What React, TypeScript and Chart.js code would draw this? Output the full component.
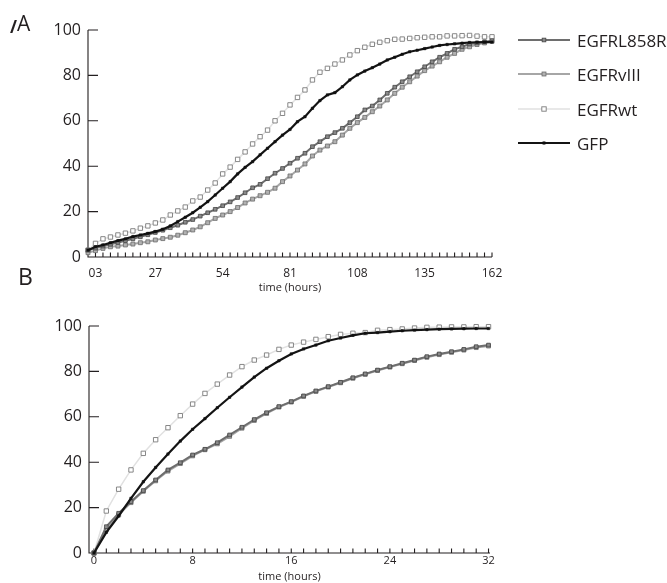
import React, { useEffect, useRef } from "react";
import { Chart, registerables } from "chart.js";

Chart.register(...registerables);

// ---------- Panel A (0–162 h) ----------
const hoursA = [
  0, 3, 6, 9, 12, 15, 18, 21, 24, 27, 30, 33, 36, 39, 42, 45, 48, 51, 54, 57,
  60, 63, 66, 69, 72, 75, 78, 81, 84, 87, 90, 93, 96, 99, 102, 105, 108, 111,
  114, 117, 120, 123, 126, 129, 132, 135, 138, 141, 144, 147, 150, 153, 156,
  159, 162,
];
const aL858R = [
  3, 3.9, 4.8, 5.6, 6.4, 7.2, 8, 8.9, 9.8, 10.8, 11.8, 12.9, 14, 15.3, 16.5, 18,
  19.5, 21, 22.6, 24.3, 26.2, 28.3, 30.5, 32, 34.5, 36.9, 39, 41.3, 43.5, 45.7,
  48.6, 50.8, 53, 54.8, 56.7, 59.2, 61.8, 64.8, 66.5, 69.2, 72.1, 74.8, 77.2,
  79.4, 81.6, 83.8, 86, 88, 89.7, 91.5, 92.6, 93.8, 94.3, 94.8, 95.3,
];
const aVIII = [
  1.9, 2.8, 3.8, 4.5, 4.8, 5.3, 5.7, 6.3, 6.7, 7.5, 8.1, 8.7, 9.6, 10.7, 11.9,
  13.3, 15.1, 17, 18.5, 20, 21.8, 23.8, 25.5, 27, 28.5, 30.3, 33.2, 35.7, 38.3,
  41, 44.5, 47.1, 48.9, 50.8, 53.7, 56.7, 59.2, 61.5, 64, 66.5, 69.2, 72.1, 74.8,
  77.2, 79.7, 82.1, 84.1, 86, 88, 89.7, 91.5, 92.6, 93.6, 94.3, 95,
];
const aWT = [
  3, 6, 8, 8.8, 9.7, 10.5, 11.5, 12.7, 13.7, 15, 16.3, 18.5, 20.3, 22, 24.7,
  26.4, 29.5, 32.6, 36.6, 39.6, 43, 46.3, 49.8, 53, 55.9, 60, 63.3, 67, 70.3,
  73.6, 78, 81.4, 83.1, 85, 86.8, 89, 90.9, 92.4, 93.7, 94.6, 95.3, 95.9, 96,
  96.3, 96.6, 96.8, 97, 97, 97.4, 97.4, 97.5, 97.6, 97.3, 97, 97,
];
const aGFP = [
  3, 4.5, 5.3, 6.3, 7.2, 8, 9, 9.7, 10.4, 11.2, 12.2, 13.7, 15.6, 17.5, 19.5,
  21.9, 24.4, 27.3, 30.3, 33.2, 36.6, 39.5, 42, 45, 47.9, 50.8, 53.7, 56.2,
  59.6, 61.8, 65.5, 68.9, 71.4, 72.4, 75, 78, 80.2, 81.9, 83.4, 85, 86.8, 88,
  89.3, 90.4, 91.1, 91.8, 92.5, 93.2, 93.6, 93.9, 94.2, 94.5, 94.6, 94.7, 94.7,
];
const xLabelsA: Record<number, string> = {
  3: "03", 27: "27", 54: "54", 81: "81", 108: "108", 135: "135", 162: "162",
};

// ---------- Panel B (0–32 h) ----------
const hoursB = [
  0, 1, 2, 3, 4, 5, 6, 7, 8, 9, 10, 11, 12, 13, 14, 15, 16, 17, 18, 19, 20, 21,
  22, 23, 24, 25, 26, 27, 28, 29, 30, 31, 32,
];
const bL858R = [
  0, 11.6, 17.5, 22.6, 27.5, 32.2, 36.6, 39.8, 43.2, 45.7, 48.6, 52, 55.4, 58.8,
  61.8, 64.5, 66.7, 69.2, 71.4, 73.3, 75.2, 77.2, 78.9, 80.6, 82.1, 83.6, 85,
  86.5, 87.7, 88.7, 89.7, 90.9, 91.6,
];
const bVIII = [
  0, 10.2, 16.8, 22.2, 27.2, 31.8, 36.1, 39.4, 42.8, 45.5, 48.1, 51.4, 55, 58.4,
  61.5, 64.3, 66.5, 69, 71.2, 73.1, 75, 77, 78.7, 80.4, 81.9, 83.4, 84.8, 86.2,
  87.4, 88.4, 89.4, 90.5, 91.2,
];
const bWT = [
  0, 18.5, 28.1, 36.6, 43.9, 49.9, 55.2, 60.5, 65.6, 70.3, 74.4, 78.4, 82.1, 85,
  87.2, 89.7, 91.6, 92.9, 94.1, 95.3, 96.3, 96.8, 97.1, 98.1, 98.4, 98.7, 99.1,
  99.4, 99.5, 99.6, 99.6, 99.7, 99.7,
];
const bGFP = [
  0, 9.1, 16.3, 24.1, 31.4, 37.7, 43.6, 49.3, 54.5, 59.2, 64, 68.6, 73.1, 77.5,
  81.4, 84.7, 87.7, 89.9, 91.6, 93.5, 94.7, 95.9, 96.8, 97.1, 97.5, 97.9, 98.2,
  98.4, 98.6, 98.7, 98.8, 98.9, 98.9,
];
const xLabelsB: Record<number, string> = { 0: "0", 8: "8", 16: "16", 24: "24", 32: "32" };

const yTickStep = 20;
const seriesNames = ["EGFRL858R", "EGFRvIII", "EGFRwt", "GFP"];

const FONT = "'Open Sans', 'Noto Sans', sans-serif";
const INK = "#231f20";

const STYLES: Record<string, any> = {
  EGFRL858R: { line: "#6e6e6e", width: 2, r: 2.6, fill: "#8a8a8a", edge: "#454545", ew: 0.8, order: 1 },
  EGFRvIII: { line: "#a6a6a6", width: 2, r: 2.8, fill: "#b2b2b2", edge: "#6c6c6c", ew: 0.8, order: 2 },
  EGFRwt: { line: "#e1e1e1", width: 1.5, r: 3.1, fill: "#ffffff", edge: "#7a7a7a", ew: 0.9, order: 3 },
  GFP: { line: "#141414", width: 2.2, r: 1.7, fill: "#111111", edge: "#111111", ew: 0.5, order: 0 },
};

function makeDatasets(hours: number[], series: Record<string, number[]>) {
  return seriesNames.map((name) => {
    const s = STYLES[name];
    return {
      label: name,
      data: hours.map((h, i) => ({ x: h, y: series[name][i] })),
      borderColor: s.line,
      borderWidth: s.width,
      pointStyle: "rect",
      pointRadius: s.r,
      pointBackgroundColor: s.fill,
      pointBorderColor: s.edge,
      pointBorderWidth: s.ew,
      tension: 0,
      order: s.order,
      clip: false as any,
    };
  });
}

const inwardAxes = {
  id: "inwardAxes",
  beforeDatasetsDraw(chart: any, _args: any, opts: any) {
    const { ctx, chartArea: ca, scales } = chart;
    ctx.save();
    ctx.strokeStyle = INK;
    ctx.lineWidth = 1.1;
    ctx.beginPath();
    ctx.moveTo(ca.left, ca.top);
    ctx.lineTo(ca.left, ca.bottom);
    ctx.lineTo(ca.right, ca.bottom);
    scales.y.ticks.forEach((t: any) => {
      const y = scales.y.getPixelForValue(t.value);
      ctx.moveTo(ca.left, y);
      ctx.lineTo(ca.left + opts.yLen, y);
    });
    scales.x.ticks.forEach((t: any) => {
      const x = scales.x.getPixelForValue(t.value);
      ctx.moveTo(x, ca.bottom);
      ctx.lineTo(x, ca.bottom - opts.xLen);
    });
    ctx.stroke();
    ctx.restore();
  },
};

function buildConfig(p: {
  hours: number[];
  series: Record<string, number[]>;
  xMin: number;
  xMax: number;
  xStep: number;
  xLabels: Record<number, string>;
  top: number;
  right: number;
  yWidth: number;
  xHeight: number;
  xFont: number;
  xPad: number;
  titlePad: number;
}): any {
  return {
    type: "line",
    data: { datasets: makeDatasets(p.hours, p.series) },
    plugins: [inwardAxes],
    options: {
      responsive: false,
      animation: false,
      events: [],
      layout: { padding: { top: p.top, right: p.right, left: 0, bottom: 0 } },
      plugins: {
        legend: { display: false },
        tooltip: { enabled: false },
        inwardAxes: { yLen: 10, xLen: 4.5 },
      },
      scales: {
        x: {
          type: "linear",
          min: p.xMin,
          max: p.xMax,
          grid: { display: false, drawTicks: false },
          border: { display: false },
          ticks: {
            stepSize: p.xStep,
            includeBounds: false,
            autoSkip: false,
            maxRotation: 0,
            padding: p.xPad,
            color: INK,
            font: { family: FONT, size: p.xFont },
            callback: (v: number) => (p.xLabels[v] !== undefined ? p.xLabels[v] : ""),
          },
          title: {
            display: true,
            text: "time (hours)",
            color: INK,
            font: { family: FONT, size: 11 },
            padding: { top: 0, bottom: p.titlePad },
          },
          afterFit: (s: any) => {
            s.height = p.xHeight;
          },
        },
        y: {
          min: 0,
          max: 100,
          grid: { display: false, drawTicks: false },
          border: { display: false },
          ticks: {
            stepSize: yTickStep,
            padding: 7,
            color: INK,
            font: { family: FONT, size: 16 },
          },
          afterFit: (s: any) => {
            s.width = p.yWidth;
          },
        },
      },
    },
  };
}

function LegendSwatch({ name }: { name: string }) {
  const s = STYLES[name];
  const side = s.r * Math.SQRT2;
  return (
    <svg width={52} height={10} style={{ display: "block", marginRight: 7 }}>
      <line x1={0} y1={5} x2={52} y2={5} stroke={s.line} strokeWidth={s.width} />
      <rect
        x={26 - side / 2}
        y={5 - side / 2}
        width={side}
        height={side}
        fill={s.fill}
        stroke={s.edge}
        strokeWidth={s.ew}
      />
    </svg>
  );
}

export default function App() {
  const refA = useRef<HTMLCanvasElement>(null);
  const refB = useRef<HTMLCanvasElement>(null);

  useEffect(() => {
    const chartA = new Chart(
      refA.current as HTMLCanvasElement,
      buildConfig({
        hours: hoursA,
        series: { EGFRL858R: aL858R, EGFRvIII: aVIII, EGFRwt: aWT, GFP: aGFP },
        xMin: 0,
        xMax: 162,
        xStep: 3,
        xLabels: xLabelsA,
        top: 30,
        right: 28,
        yWidth: 88,
        xHeight: 43,
        xFont: 12,
        xPad: 9,
        titlePad: 6,
      })
    );
    const chartB = new Chart(
      refB.current as HTMLCanvasElement,
      buildConfig({
        hours: hoursB,
        series: { EGFRL858R: bL858R, EGFRvIII: bVIII, EGFRwt: bWT, GFP: bGFP },
        xMin: -0.405,
        xMax: 32.12,
        xStep: 1,
        xLabels: xLabelsB,
        top: 31,
        right: 30,
        yWidth: 89,
        xHeight: 30,
        xFont: 11,
        xPad: 1.5,
        titlePad: 0,
      })
    );
    return () => {
      chartA.destroy();
      chartB.destroy();
    };
  }, []);

  const legendY = [40, 74, 109, 143];

  return (
    <div
      style={{
        position: "fixed",
        left: 0,
        top: 0,
        width: 667,
        height: 583,
        overflow: "hidden",
        background: "#fff",
        fontFamily: FONT,
        color: INK,
      }}
    >
      <canvas ref={refA} width={520} height={300} style={{ position: "absolute", left: 0, top: 0 }} />
      <canvas ref={refB} width={520} height={288} style={{ position: "absolute", left: 0, top: 295 }} />

      <div style={{ position: "absolute", left: 10, top: 18, fontSize: 17, fontWeight: 700, lineHeight: "17px" }}>/</div>
      <div style={{ position: "absolute", left: 17, top: 13.4, fontSize: 21, lineHeight: "21px" }}>A</div>
      <div style={{ position: "absolute", left: 18, top: 264.6, fontSize: 23, lineHeight: "23px" }}>B</div>

      {seriesNames.map((name, i) => (
        <div
          key={name}
          style={{
            position: "absolute",
            left: 518,
            top: legendY[i] - 11,
            height: 22,
            display: "flex",
            alignItems: "center",
            fontSize: 17,
            whiteSpace: "nowrap",
          }}
        >
          <LegendSwatch name={name} />
          <span>{name}</span>
        </div>
      ))}
    </div>
  );
}
